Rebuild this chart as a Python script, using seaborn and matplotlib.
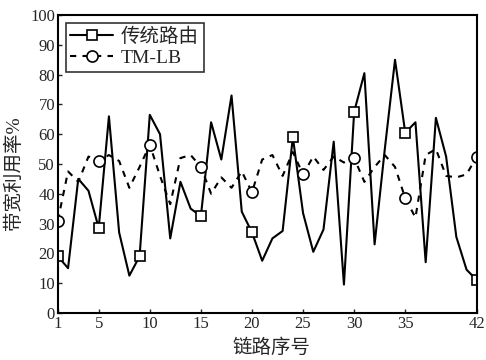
import numpy as np
import pandas as pd
import seaborn as sns
import matplotlib.pyplot as plt

# link index 1..42
links = list(range(1, 43))

# bandwidth utilisation (%), traditional routing
traditional = [19, 15, 45, 41, 28.5, 66, 27, 12.5, 19, 66.5,
               60, 25, 44, 35, 32.5, 64, 51.5, 73, 34, 27,
               17.5, 25, 27.5, 59, 33.5, 20.5, 28, 57.5, 9.5, 67.5,
               80.5, 23, 55, 85, 60.5, 64, 17, 65.5, 52.5, 25.5,
               14.5, 11]

# bandwidth utilisation (%), TM-LB
tmlb = [31, 47.5, 44, 52.5, 51, 53, 51, 42, 49, 56.5,
        46, 36.5, 52, 53, 49, 40, 45.5, 42, 47.5, 40.5,
        51.5, 53, 46, 54, 46.5, 52.5, 48, 52.5, 50.5, 52,
        44, 49, 53, 49, 38.5, 32, 53, 55, 46, 45.5,
        46.5, 52.5]

# links where the markers sit
trad_marks = [1, 5, 9, 15, 20, 24, 30, 35, 42]
tmlb_marks = [1, 5, 10, 15, 20, 25, 30, 35, 42]

xticks = [1, 5, 10, 15, 20, 25, 30, 35, 42]

df = pd.DataFrame({"link": links, "trad": traditional, "tmlb": tmlb})

sns.set_style("ticks")
plt.rcParams["font.family"] = ["Liberation Serif", "Noto Sans CJK SC"]
plt.rcParams["xtick.direction"] = "in"
plt.rcParams["ytick.direction"] = "in"

fig = plt.figure(figsize=(4.86, 3.6), dpi=100)
ax = fig.add_axes([0.119, 0.131, 0.862, 0.827])

sns.lineplot(data=df, x="link", y="trad", ax=ax, color="black", lw=1.5,
             marker="s", markersize=7, mfc="white", mec="black", mew=1.2,
             markevery=[i - 1 for i in trad_marks], label="传统路由")
sns.lineplot(data=df, x="link", y="tmlb", ax=ax, color="black", lw=1.5,
             linestyle=(0, (3, 3)), marker="o", markersize=8, mfc="white",
             mec="black", mew=1.2,
             markevery=[i - 1 for i in tmlb_marks], label="TM-LB")

ax.set_xlim(1, 42)
ax.set_ylim(0, 100)
ax.set_xticks(xticks)
ax.set_yticks(range(0, 101, 10))
ax.tick_params(labelsize=12, length=3, width=1, pad=2)
for s in ax.spines.values():
    s.set_linewidth(1.5)
    s.set_color("black")

ax.set_xlabel("链路序号", fontsize=14)
ax.set_ylabel("带宽利用率%", fontsize=14)
ax.xaxis.set_label_coords(0.51, -0.085)
ax.yaxis.set_label_coords(-0.083, 0.47)

leg = ax.legend(loc="upper left", fontsize=14, frameon=True, fancybox=False,
                edgecolor="black", handlelength=2.2, borderpad=0.25,
                labelspacing=0.15, handletextpad=0.4, borderaxespad=0.4)
leg.get_frame().set_linewidth(1.2)

fig.savefig("out.png", dpi=100)
